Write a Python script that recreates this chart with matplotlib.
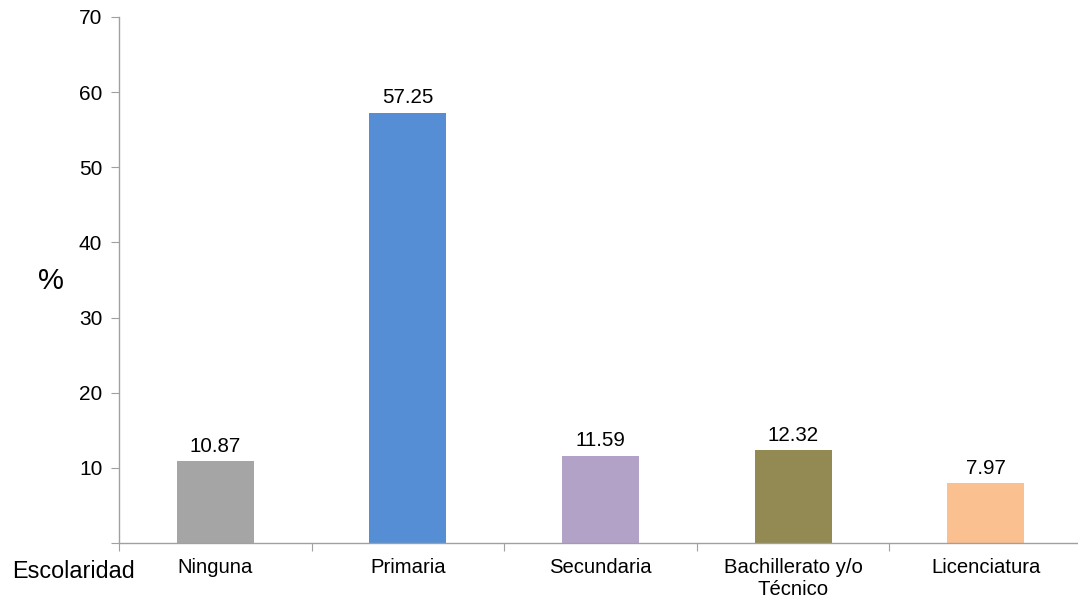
import matplotlib
matplotlib.use("Agg")
import matplotlib.pyplot as plt

categories = ["Ninguna", "Primaria", "Secundaria", "Bachillerato y/o\nTécnico", "Licenciatura"]
values = [10.87, 57.25, 11.59, 12.32, 7.97]
colors = ["#A5A5A5", "#558ED5", "#B3A2C7", "#938953", "#FAC090"]
yticks = [10, 20, 30, 40, 50, 60, 70]

plt.rcParams['font.family'] = ['Liberation Sans', 'DejaVu Sans']

fig = plt.figure(figsize=(10.78, 6.01), dpi=100)
W, H = 1078, 601
ax = fig.add_axes([119 / W, 58 / H, (W - 119 + 4) / W, (543 - 17) / H])

x = list(range(len(categories)))
bars = ax.bar(x, values, width=0.4, color=colors, zorder=2)
for xi, v in zip(x, values):
    ax.annotate(f"{v:.2f}", (xi, v), xytext=(0, 4), textcoords="offset points",
                ha="center", va="bottom", fontsize=14.8, color="#000000")

ax.set_xlim(-0.5, len(categories) - 0.5)
ax.set_ylim(0, 70)
ax.set_yticks([0] + yticks)
ax.set_yticklabels([""] + [str(t) for t in yticks], fontsize=15)

ax.set_xticks([i - 0.5 for i in range(len(categories) + 1)])
ax.set_xticklabels([])
ax.set_xticks(x, minor=True)
ax.set_xticklabels(categories, minor=True, fontsize=14.6, linespacing=1.2)
ax.tick_params(axis='x', which='minor', length=0, pad=11)
ax.tick_params(axis='x', which='major', length=6, color="#A0A0A0", direction='out')
ax.tick_params(axis='y', length=6, color="#A0A0A0", direction='out', pad=6)

for s in ["top", "right"]:
    ax.spines[s].set_visible(False)
for s in ["left", "bottom"]:
    ax.spines[s].set_color("#A0A0A0")
    ax.spines[s].set_linewidth(1.0)

fig.text(51 / W, 1 - 281 / H, "%", fontsize=21, ha="center", va="center")
fig.text(12 / W, 1 - 571 / H, "Escolaridad", fontsize=16.8, ha="left", va="center")

fig.savefig("out.png", dpi=100)
